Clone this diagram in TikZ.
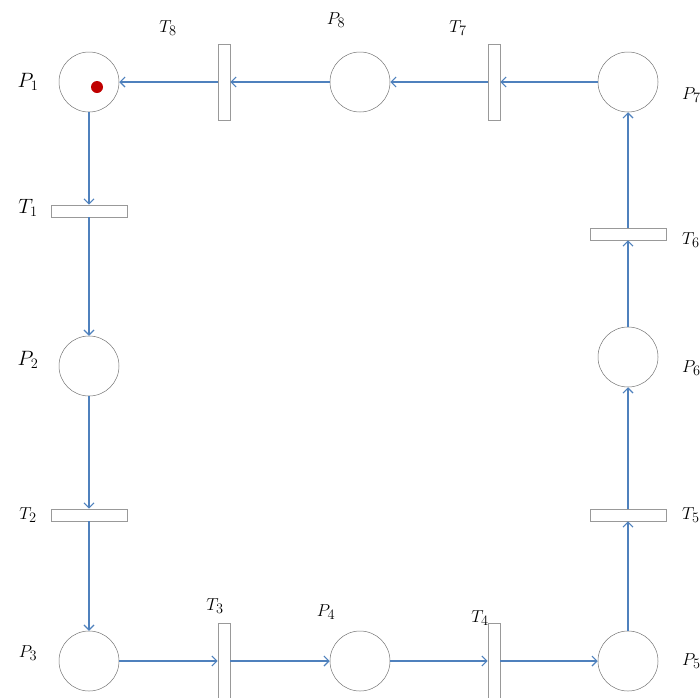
\documentclass[tikz,border=0pt]{standalone}
\usepackage{xcolor}
\usepackage{tikz}
\usetikzlibrary{positioning,arrows.meta,calc}

\definecolor{arcblue}{RGB}{79,129,189}
\definecolor{tokenred}{RGB}{192,0,0}

\begin{document}
\begin{tikzpicture}[
  x=1pt, y=-1pt, on grid, >={Straight Barb[length=5pt,width=10pt]},
  place/.style={circle, draw=black!55, line width=0.5pt, minimum size=60pt, inner sep=0pt},
  htrans/.style={rectangle, draw=black!40, line width=0.8pt, minimum width=76pt, minimum height=12pt, inner sep=0pt},
  vtrans/.style={rectangle, draw=black!40, line width=0.8pt, minimum width=12pt, minimum height=76pt, inner sep=0pt},
  arc/.style={->, color=arcblue, line width=1.1pt},
  biglab/.style={font=\fontsize{21}{23}\selectfont},
  lab/.style={font=\fontsize{19}{21}\selectfont},
  rlab/.style={lab, anchor=west, inner sep=0pt}
]
  \useasboundingbox (0,0) rectangle (700,697);

  % top row
  \node (p1) [place] at (89,82) {};
  \node (t8) [vtrans, right=135pt of p1] {};
  \node (p8) [place, right=136pt of t8] {};
  \node (t7) [vtrans, right=134pt of p8] {};
  \node (p7) [place, right=134pt of t7] {};

  \node (token) [circle, fill=tokenred, minimum size=12pt, inner sep=0pt] at ($(p1)+(8,5)$) {};

  % left column
  \node (t1) [htrans, below=129pt of p1] {};
  \node (p2) [place, below=155pt of t1] {};
  \node (t2) [htrans, below=149pt of p2] {};
  \node (p3) [place, below=146pt of t2] {};

  % bottom row
  \node (t3) [vtrans, right=135pt of p3] {};
  \node (p4) [place, right=136pt of t3] {};
  \node (t4) [vtrans, right=134pt of p4] {};
  \node (p5) [place, right=134pt of t4] {};

  % right column
  \node (t5) [htrans, above=146pt of p5] {};
  \node (p6) [place, above=158pt of t5] {};
  \node (t6) [htrans, above=123pt of p6] {};

  % labels
  \node (p1-lab) [biglab, left=61pt of p1] {$P_1$};
  \node (t1-lab) [biglab, left=61pt of t1, yshift=3pt] {$T_1$};
  \node (p2-lab) [biglab, left=61pt of p2, yshift=6pt] {$P_2$};
  \node (t2-lab) [lab, left=61pt of t2] {$T_2$};
  \node (p3-lab) [lab, left=61pt of p3, yshift=8pt] {$P_3$};
  \node (t3-lab) [lab, above=55pt of t3, xshift=-9pt] {$T_3$};
  \node (p4-lab) [lab, above=49pt of p4, xshift=-34pt] {$P_4$};
  \node (t4-lab) [lab, above=43pt of t4, xshift=-14pt] {$T_4$};
  \node (p5-lab) [rlab] at ($(p5)+(54,0)$) {$P_5$};
  \node (t5-lab) [rlab] at ($(t5)+(54,0)$) {$T_5$};
  \node (p6-lab) [rlab] at ($(p6)+(54,11)$) {$P_6$};
  \node (t6-lab) [rlab] at ($(t6)+(54,6)$) {$T_6$};
  \node (p7-lab) [rlab] at ($(p7)+(54,13)$) {$P_7$};
  \node (t7-lab) [lab, above=54pt of t7, xshift=-36pt] {$T_7$};
  \node (p8-lab) [lab, above=62pt of p8, xshift=-24pt] {$P_8$};
  \node (t8-lab) [lab, above=54pt of t8, xshift=-56pt] {$T_8$};

  % arcs
  \draw[arc] (p1) -- (t1);
  \draw[arc] (t1) -- (p2);
  \draw[arc] (p2) -- (t2);
  \draw[arc] (t2) -- (p3);
  \draw[arc] (p3) -- (t3);
  \draw[arc] (t3) -- (p4);
  \draw[arc] (p4) -- (t4);
  \draw[arc] (t4) -- (p5);
  \draw[arc] (p5) -- (t5);
  \draw[arc] (t5) -- (p6);
  \draw[arc] (p6) -- (t6);
  \draw[arc] (t6) -- (p7);
  \draw[arc] (p7) -- (t7);
  \draw[arc] (t7) -- (p8);
  \draw[arc] (p8) -- (t8);
  \draw[arc] (t8) -- (p1);
\end{tikzpicture}
\end{document}
